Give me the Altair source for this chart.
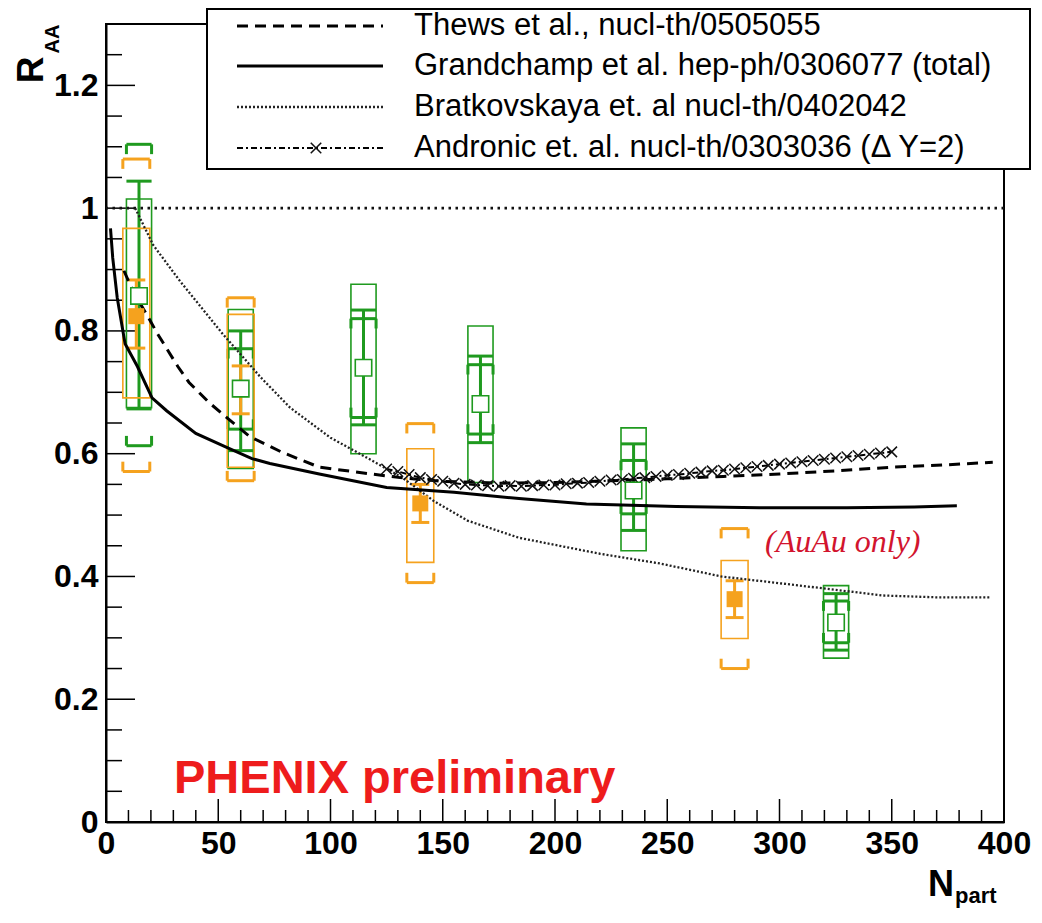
import altair as alt
import pandas as pd

# ---------------- data ----------------
# Model curves
thews_x = [8, 12, 19, 23, 32, 37, 46, 55, 64, 78, 95, 118, 131, 150, 175, 200, 225, 250, 275, 300, 325, 350, 375, 395]
thews_y = [0.898, 0.865, 0.821, 0.795, 0.742, 0.716, 0.683, 0.655, 0.628, 0.603, 0.578, 0.567, 0.561, 0.555,
           0.552, 0.553, 0.556, 0.559, 0.563, 0.567, 0.572, 0.578, 0.582, 0.586]

grand_x = [2, 3, 5, 8.5, 14, 20.5, 27, 40, 54, 65, 73, 95, 125, 155, 184, 214, 254, 291, 330, 360, 379]
grand_y = [0.967, 0.919, 0.854, 0.779, 0.742, 0.691, 0.670, 0.633, 0.610, 0.592, 0.584, 0.567, 0.545, 0.537,
           0.527, 0.518, 0.514, 0.512, 0.512, 0.513, 0.515]

brat_x = [13, 21, 33, 52, 69, 82, 100, 113, 132, 146, 161, 184, 202, 220, 247, 274, 300, 321, 346, 370, 394]
brat_y = [1.0, 0.94, 0.881, 0.795, 0.724, 0.675, 0.626, 0.600, 0.561, 0.523, 0.491, 0.463, 0.450, 0.437,
          0.421, 0.400, 0.389, 0.380, 0.369, 0.366, 0.366]

andr_x = [125, 130, 135, 140, 145, 150, 155, 160, 165, 170, 175, 180, 185, 190, 195, 200, 205, 210, 215, 220,
          225, 230, 235, 240, 245, 250, 255, 260, 265, 270, 275, 280, 285, 290, 295, 300, 305, 310, 315, 320,
          325, 330, 335, 340, 345, 350]
andr_y = [0.575, 0.571, 0.566, 0.561, 0.558, 0.555, 0.552, 0.550, 0.549, 0.548, 0.547, 0.548, 0.547, 0.548,
          0.549, 0.549, 0.551, 0.552, 0.553, 0.555, 0.557, 0.558, 0.560, 0.561, 0.563, 0.565, 0.566, 0.568,
          0.570, 0.572, 0.573, 0.575, 0.577, 0.579, 0.581, 0.583, 0.585, 0.587, 0.589, 0.591, 0.593, 0.595,
          0.597, 0.599, 0.601, 0.603]

unity_y = [1.0]

# PHENIX data, green set
g_x = [14.7, 60, 114.7, 166.8, 235, 325.2]
g_val = [0.857, 0.706, 0.740, 0.681, 0.540, 0.325]
g_stat_lo = [0.673, 0.605, 0.647, 0.618, 0.475, 0.280]
g_stat_hi = [1.044, 0.800, 0.834, 0.759, 0.616, 0.372]
g_sys_lo = [0.675, 0.576, 0.600, 0.553, 0.442, 0.267]
g_sys_hi = [1.015, 0.835, 0.876, 0.808, 0.642, 0.385]
g_glob_lo = [0.613, 0.640, 0.659, 0.632, 0.502, 0.292]
g_glob_hi = [1.104, 0.771, 0.820, 0.745, 0.589, 0.360]

# PHENIX data, orange set
o_x = [13.5, 60, 140, 280]
o_val = [0.824, 0.705, 0.519, 0.363]
o_stat_lo = [0.772, 0.665, 0.488, 0.333]
o_stat_hi = [0.883, 0.743, 0.550, 0.393]
o_sys_lo = [0.691, 0.578, 0.423, 0.299]
o_sys_hi = [0.967, 0.827, 0.608, 0.426]
o_glob_lo = [0.571, 0.556, 0.390, 0.250]
o_glob_hi = [1.080, 0.854, 0.649, 0.478]

# Axis ticks / labels
x_label_vals = [0, 50, 100, 150, 200, 250, 300, 350, 400]
x_minor_vals = [v for v in range(0, 401, 10) if v % 50 != 0]
y_label_vals = [0, 0.2, 0.4, 0.6, 0.8, 1.0, 1.2]
y_minor_vals = [0.05, 0.1, 0.15, 0.25, 0.3, 0.35, 0.45, 0.5, 0.55, 0.65, 0.7, 0.75, 0.85, 0.9, 0.95,
                1.05, 1.1, 1.15, 1.25]

legend_labels = ["Thews et al., nucl-th/0505055",
                 "Grandchamp et al. hep-ph/0306077 (total)",
                 "Bratkovskaya et. al nucl-th/0402042",
                 "Andronic et. al. nucl-th/0303036 (\u0394 Y=2)"]
phenix_text = ["PHENIX preliminary"]
auau_text = ["(AuAu only)"]

# ---------------- styling ----------------
W, H = 898, 798
FONT = "Liberation Sans"
GREEN = "#1f9a1f"
ORANGE = "#f5a21e"
RED = "#ee1c1c"

xs = alt.Scale(domain=[0, 400], nice=False, zero=False)
ys = alt.Scale(domain=[0, 1.3], nice=False, zero=False)

x_axis = alt.Axis(values=x_label_vals, ticks=False, grid=False, title=None, labelFont=FONT,
                  labelFontWeight="bold", labelFontSize=32, labelColor="black", labelPadding=6,
                  domainColor="black", domainWidth=2, labelFlush=False, labelOverlap=False, format="d")
y_axis = alt.Axis(values=y_label_vals, ticks=False, grid=False, title=None, labelFont=FONT,
                  labelFontWeight="bold", labelFontSize=32, labelColor="black", labelPadding=8,
                  domainColor="black", domainWidth=2, labelFlush=False, labelOverlap=False, format="~g")


def X(f):
    return alt.X(f + ":Q", scale=xs, axis=x_axis)


def Y(f):
    return alt.Y(f + ":Q", scale=ys, axis=y_axis)


layers = []

# ---- inward axis ticks ----
layers.append(alt.Chart(pd.DataFrame({"v": x_label_vals})).mark_rule(color="black", strokeWidth=1.5)
              .encode(x=X("v"), y=alt.value(H), y2=alt.value(H - 23)))
layers.append(alt.Chart(pd.DataFrame({"v": x_minor_vals})).mark_rule(color="black", strokeWidth=1.5)
              .encode(x=X("v"), y=alt.value(H), y2=alt.value(H - 12)))
layers.append(alt.Chart(pd.DataFrame({"v": y_label_vals})).mark_rule(color="black", strokeWidth=1.5)
              .encode(y=Y("v"), x=alt.value(0), x2=alt.value(29)))
layers.append(alt.Chart(pd.DataFrame({"v": y_minor_vals})).mark_rule(color="black", strokeWidth=1.5)
              .encode(y=Y("v"), x=alt.value(0), x2=alt.value(16)))


def data_layers(xv, val, slo, shi, ylo, yhi, glo, ghi, color, half, cap_half, leg):
    df = pd.DataFrame({"x": xv, "val": val, "slo": slo, "shi": shi, "ylo": ylo, "yhi": yhi,
                       "glo": glo, "ghi": ghi})
    df["x0"] = df["x"] - half
    df["x1"] = df["x"] + half
    df["c0"] = df["x"] - cap_half
    df["c1"] = df["x"] + cap_half
    df["glo_leg"] = df["glo"] + leg
    df["ghi_leg"] = df["ghi"] - leg
    out = []
    # systematic boxes
    out.append(alt.Chart(df).mark_rect(fill="white", fillOpacity=0, stroke=color, strokeWidth=1.6)
               .encode(x=X("x0"), x2="x1", y=Y("ylo"), y2="yhi"))
    # statistical bars
    out.append(alt.Chart(df).mark_rule(color=color, strokeWidth=3)
               .encode(x=X("x"), y=Y("slo"), y2="shi"))
    for f in ["slo", "shi"]:
        out.append(alt.Chart(df).mark_rule(color=color, strokeWidth=3)
                   .encode(x=X("c0"), x2="c1", y=Y(f)))
    # brackets
    for f, lg in [("glo", "glo_leg"), ("ghi", "ghi_leg")]:
        out.append(alt.Chart(df).mark_rule(color=color, strokeWidth=3)
                   .encode(x=X("x0"), x2="x1", y=Y(f)))
        for xe in ["x0", "x1"]:
            out.append(alt.Chart(df).mark_rule(color=color, strokeWidth=3)
                       .encode(x=X(xe), y=Y(f), y2=lg))
    return df, out


g_df, g_layers = data_layers(g_x, g_val, g_stat_lo, g_stat_hi, g_sys_lo, g_sys_hi, g_glob_lo, g_glob_hi,
                             GREEN, 5.6, 5.6, 0.016)
o_df, o_layers = data_layers(o_x, o_val, o_stat_lo, o_stat_hi, o_sys_lo, o_sys_hi, o_glob_lo, o_glob_hi,
                             ORANGE, 6.0, 4.0, 0.016)
layers += g_layers + o_layers

# ---- model curves ----
unity = pd.DataFrame({"y": unity_y})
layers.append(alt.Chart(unity).mark_rule(color="#111", strokeWidth=2.6, strokeDash=[2.5, 4.5])
              .encode(y=Y("y")))
brat = pd.DataFrame({"x": brat_x, "y": brat_y})
layers.append(alt.Chart(brat).mark_line(color="#222", strokeWidth=2.3, strokeDash=[2, 2])
              .encode(x=X("x"), y=Y("y")))
thews = pd.DataFrame({"x": thews_x, "y": thews_y})
layers.append(alt.Chart(thews).mark_line(color="black", strokeWidth=3, strokeDash=[11, 7])
              .encode(x=X("x"), y=Y("y")))
grand = pd.DataFrame({"x": grand_x, "y": grand_y})
layers.append(alt.Chart(grand).mark_line(color="black", strokeWidth=3)
              .encode(x=X("x"), y=Y("y")))
andr = pd.DataFrame({"x": andr_x, "y": andr_y})
layers.append(alt.Chart(andr).mark_line(color="black", strokeWidth=2, strokeDash=[6, 3, 2, 3])
              .encode(x=X("x"), y=Y("y")))
CROSS = "M-1,-1L1,1M1,-1L-1,1"
layers.append(alt.Chart(andr).mark_point(shape=CROSS, size=110, filled=False, color="#111", strokeWidth=1.5,
                                         opacity=1)
              .encode(x=X("x"), y=Y("y")))

# ---- markers ----
layers.append(alt.Chart(o_df).mark_square(size=256, color=ORANGE, opacity=1)
              .encode(x=X("x"), y=Y("val")))
layers.append(alt.Chart(g_df).mark_square(size=270, fill="white", filled=True, stroke=GREEN, strokeWidth=1.6,
                                          opacity=1)
              .encode(x=X("x"), y=Y("val")))

# ---- annotations ----
layers.append(alt.Chart(pd.DataFrame({"t": phenix_text})).mark_text(
    font=FONT, fontWeight="bold", fontSize=47, color=RED, align="left", baseline="alphabetic")
    .encode(text="t:N", x=alt.value(68), y=alt.value(769)))
layers.append(alt.Chart(pd.DataFrame({"t": auau_text})).mark_text(
    font="Liberation Serif", fontStyle="italic", fontSize=32, color="#d2142e", align="left",
    baseline="alphabetic")
    .encode(text="t:N", x=alt.value(659), y=alt.value(528)))

# axis titles (R_AA, N_part)
layers.append(alt.Chart(pd.DataFrame({"t": ["R"]})).mark_text(
    font=FONT, fontWeight="bold", fontSize=37, color="black", angle=270, align="center", baseline="middle")
    .encode(text="t:N", x=alt.value(-74), y=alt.value(46)))
layers.append(alt.Chart(pd.DataFrame({"t": ["AA"]})).mark_text(
    font=FONT, fontWeight="bold", fontSize=20, color="black", angle=270, align="center", baseline="middle")
    .encode(text="t:N", x=alt.value(-53), y=alt.value(15)))
layers.append(alt.Chart(pd.DataFrame({"t": ["N"]})).mark_text(
    font=FONT, fontWeight="bold", fontSize=36, color="black", align="left", baseline="alphabetic")
    .encode(text="t:N", x=alt.value(822), y=alt.value(872)))
layers.append(alt.Chart(pd.DataFrame({"t": ["part"]})).mark_text(
    font=FONT, fontWeight="bold", fontSize=22, color="black", align="left", baseline="alphabetic")
    .encode(text="t:N", x=alt.value(849), y=alt.value(879)))

# ---- legend (drawn as a box) ----
LX0, LX1, LY0, LY1 = 101, 924, -15, 145
layers.append(alt.Chart(pd.DataFrame({"k": [0]})).mark_rect(fill="white", stroke="black", strokeWidth=2)
              .encode(x=alt.value(LX0), x2=alt.value(LX1), y=alt.value(LY0), y2=alt.value(LY1)))
row_y = [2, 42, 83, 124]
sample_styles = [
    dict(color="black", strokeWidth=3, strokeDash=[11, 7]),
    dict(color="black", strokeWidth=3),
    dict(color="#222", strokeWidth=2.3, strokeDash=[2, 2]),
    dict(color="black", strokeWidth=2, strokeDash=[6, 3, 2, 3]),
]
for lab, ry, st in zip(legend_labels, row_y, sample_styles):
    d = pd.DataFrame({"label": [lab]})
    layers.append(alt.Chart(d).mark_rule(**st)
                  .encode(x=alt.value(131), x2=alt.value(277), y=alt.value(ry)))
    layers.append(alt.Chart(d).mark_text(font=FONT, fontSize=31, color="black", align="left",
                                         baseline="middle")
                  .encode(text="label:N", x=alt.value(308), y=alt.value(ry)))
layers.append(alt.Chart(pd.DataFrame({"k": [0]})).mark_point(shape=CROSS, size=110, filled=False,
                                                            color="#111", strokeWidth=1.5, opacity=1)
              .encode(x=alt.value(210), y=alt.value(row_y[3])))

chart = alt.layer(*layers).properties(
    width=W, height=H,
    padding={"left": 98, "top": 16, "right": 30, "bottom": 88},
    autosize=alt.AutoSizeParams(type="none"),
    background="white",
).configure_view(stroke="black", strokeWidth=2)

chart.save("out.html", embed_options={"renderer": "svg", "actions": False})
